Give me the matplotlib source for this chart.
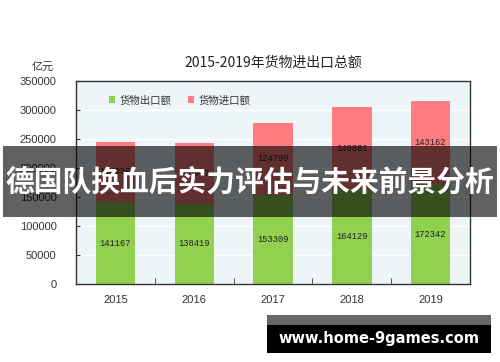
import numpy as np
import matplotlib.pyplot as plt
from matplotlib.patches import Rectangle

plt.rcParams['font.family'] = ['Noto Sans CJK SC', 'DejaVu Sans']

# datos: exportaciones e importaciones de bienes (亿元)
anios = ['2015', '2016', '2017', '2018', '2019']
exportaciones = [141167, 138419, 153309, 164129, 172342]
importaciones = [104336, 104967, 124790, 140881, 143162]

verde = '#92D050'
rosa = '#FF7C80'

fig = plt.figure(figsize=(5, 3.62), dpi=100)
ax = fig.add_axes([0.152, 0.2155, 0.788, 0.5605])
ax.set_facecolor('#EEF5F9')

x = np.arange(len(anios))
ax.bar(x, exportaciones, width=0.5, color=verde, zorder=2, label='货物出口额')
ax.bar(x, importaciones, width=0.5, bottom=exportaciones, color=rosa, zorder=2, label='货物进口额')

# etiquetas dentro de las barras
for xi, e, i in zip(x, exportaciones, importaciones):
	ax.text(xi, e / 2, str(e), ha='center', va='center', fontsize=6.3,
		family='Liberation Mono', color='#222222', zorder=3)
	ax.text(xi, e + i / 2, str(i), ha='center', va='center', fontsize=6.3,
		family='Liberation Mono', color='#222222', zorder=3)

ax.set_xlim(-0.5, 4.5)
ax.set_ylim(0, 350000)
ax.set_yticks(np.arange(0, 350001, 50000))
ax.set_yticklabels([str(v) for v in range(0, 350001, 50000)], family='Liberation Sans', fontsize=8, color='#333333')
ax.set_xticks(x)
ax.set_xticklabels(anios, family='Liberation Sans', fontsize=8, color='#333333')
ax.set_xticks(x[:-1] + 0.5, minor=True)
ax.tick_params(axis='x', which='major', length=0, pad=8)
ax.tick_params(axis='x', which='minor', direction='in', length=4, color='#333333')
ax.tick_params(axis='y', direction='in', length=3, color='#333333', pad=14)
ax.grid(axis='y', color='white', linewidth=0.9, zorder=1)
for s in ax.spines.values():
	s.set_color('#333333')
	s.set_linewidth(1)

ax.legend(loc='center left', bbox_to_anchor=(0.06, 0.906), ncol=2, frameon=False,
	fontsize=7.5, handlelength=0.6, handleheight=0.6, handletextpad=0.4,
	columnspacing=1.6, labelcolor='#333333')

fig.text(0.546, 0.826, '2015-2019年货物进出口总额', ha='center', va='center', fontsize=10, color='#222222')
fig.text(0.086, 0.815, '亿元', ha='center', va='center', fontsize=8, color='#333333')

# franja superpuesta con titular
fig.patches.append(Rectangle((0.006, 0.4006), 0.988, 0.1961, transform=fig.transFigure,
	facecolor='black', alpha=0.62, edgecolor='none', zorder=5))
fig.text(0.5, 0.4986, '德国队换血后实力评估与未来前景分析', ha='center', va='center',
	fontsize=20.7, fontweight='bold', color='white', zorder=6)

# marca de agua
fig.patches.append(Rectangle((0.534, 1 - 353 / 362), 0.448, 38 / 362, transform=fig.transFigure,
	facecolor='black', edgecolor='none', zorder=5))
fig.patches.append(Rectangle((0.534, 1 - 325 / 362), 0.448, 10 / 362, transform=fig.transFigure,
	facecolor='#666666', edgecolor='none', zorder=5))
fig.text(0.758, 1 - 338 / 362, 'www.home-9games.com', ha='center', va='center',
	fontsize=10.5, fontweight='bold', family='DejaVu Sans', color='white', zorder=6)

fig.savefig('out.png', dpi=100)
